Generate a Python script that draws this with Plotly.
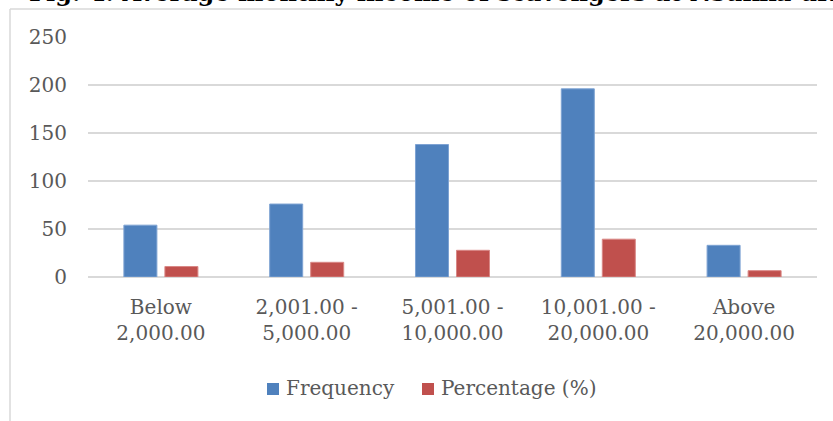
import plotly.graph_objects as go

# Income bands (naira) and survey results
categories = [
    "Below<br>2,000.00",
    "2,001.00 -<br>5,000.00",
    "5,001.00 -<br>10,000.00",
    "10,001.00 -<br>20,000.00",
    "Above<br>20,000.00",
]
frequency = [54, 76, 138, 196, 33]
percentage = [10.9, 15.3, 27.8, 39.4, 6.6]
y_ticks = [0, 50, 100, 150, 200, 250]
series_names = ["Frequency", "Percentage (%)"]
series_colors = ["#4F81BD", "#C0504D"]
series_edges = ["#7EA3D3", "#D98886"]

title_text = "Fig. 4: Average monthly income of scavengers at Nsukka urban"

W, H = 833, 421
ML, MR, MT, MB = 88, 16, 37, 144
plot_w = W - ML - MR
plot_h = H - MT - MB


def px_x(x):
    return (x - ML) / plot_w


def px_y(y):
    return (H - MB - y) / plot_h


FONT = "DejaVu Serif"
GREY = "#595959"

fig = go.Figure()
for name, vals, col, edge in zip(series_names, [frequency, percentage],
                                 series_colors, series_edges):
    fig.add_trace(go.Bar(
        x=categories, y=vals, name=name, showlegend=False,
        marker=dict(color=col, line=dict(color=edge, width=1)),
    ))

# chart frame (left and top edges)
frame = dict(color="#D9D9D9", width=1.5)
fig.add_shape(type="line", xref="paper", yref="paper",
              x0=px_x(10), x1=px_x(10), y0=px_y(9), y1=px_y(H + 5), line=frame)
fig.add_shape(type="line", xref="paper", yref="paper",
              x0=px_x(10), x1=px_x(W + 5), y0=px_y(9), y1=px_y(9), line=frame)

# legend: colour squares followed by series names
legend_items = [(267, 285), (422, 440)]
for (sq_x, txt_x), name, col in zip(legend_items, series_names, series_colors):
    fig.add_shape(type="rect", xref="paper", yref="paper",
                  x0=px_x(sq_x), x1=px_x(sq_x + 12),
                  y0=px_y(395), y1=px_y(383),
                  fillcolor=col, line=dict(width=0))
    fig.add_annotation(
        text=name, xref="paper", yref="paper",
        x=px_x(txt_x - 1), y=px_y(388), xanchor="left", yanchor="middle",
        showarrow=False, font=dict(family=FONT, size=20, color=GREY),
    )

fig.add_annotation(
    text=title_text, xref="paper", yref="paper",
    x=px_x(27), y=px_y(9.5), xanchor="left", yanchor="bottom",
    showarrow=False,
    font=dict(family=FONT, size=24, color="#000000", weight="bold"),
)

fig.update_layout(
    width=W, height=H,
    margin=dict(l=ML, r=MR, t=MT, b=MB),
    paper_bgcolor="white", plot_bgcolor="white",
    barmode="group", bargap=0.4375, bargroupgap=0.195,
    font=dict(family=FONT, size=20, color=GREY),
    showlegend=False,
    xaxis=dict(
        showgrid=False, showline=False, ticks="",
        tickfont=dict(family=FONT, size=20, color=GREY),
        ticklabelstandoff=16,
        fixedrange=True,
    ),
    yaxis=dict(
        range=[0, 250], tickvals=y_ticks,
        showgrid=True, gridcolor="#D9D9D9", gridwidth=1.5,
        zeroline=True, zerolinecolor="#D9D9D9", zerolinewidth=1.5,
        showline=False, ticks="",
        tickfont=dict(family=FONT, size=20, color=GREY),
        ticklabelstandoff=20,
        fixedrange=True,
    ),
)

fig.write_html("out.html", config={"displayModeBar": False})
